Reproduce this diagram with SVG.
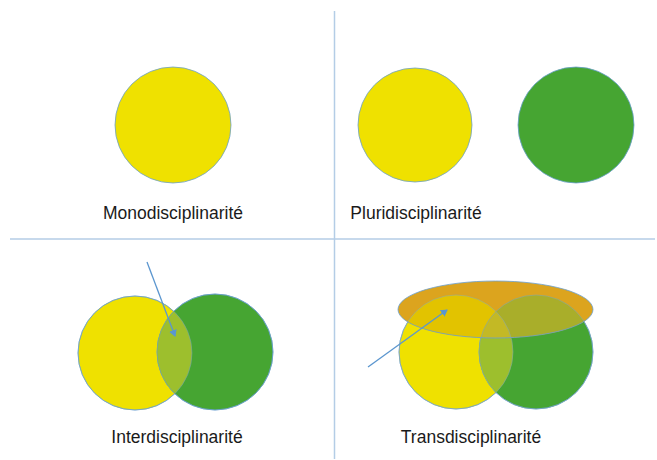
<svg xmlns="http://www.w3.org/2000/svg" width="657" height="460" viewBox="0 0 657 460">
<style>
.lbl{font-family:"Liberation Sans",Arial,sans-serif;font-size:17.5px;fill:#1a1a1a;text-anchor:middle}
.y{fill:#EFE100;stroke:#6A9FD0;stroke-width:0.8}
.g{fill:#46A532;stroke:#6A9FD0;stroke-width:0.8}
.div{stroke:#B4CDE6;stroke-width:1.5}
.arr{stroke:#5B96CF;stroke-width:1.3;fill:none;marker-end:url(#ah)}
</style>
<defs>
<marker id="ah" markerWidth="8" markerHeight="8" refX="6" refY="4" orient="auto" markerUnits="userSpaceOnUse">
<path d="M0,0 L7,4 L0,8 Z" fill="#5B96CF"/>
</marker>
<clipPath id="cY1"><circle cx="135" cy="353" r="57"/></clipPath>
<clipPath id="cY2"><circle cx="456" cy="352" r="57"/></clipPath>
<clipPath id="cE"><ellipse cx="495.5" cy="309.5" rx="97.5" ry="28.5"/></clipPath>
</defs>
<g id="dividers">
<line class="div" x1="334.5" y1="11" x2="334.5" y2="459"/>
<line class="div" x1="10" y1="239" x2="655" y2="239"/>
</g>
<g id="mono">
<circle class="y" cx="173" cy="125" r="58"/>
<text class="lbl" x="173" y="219">Monodisciplinarité</text>
</g>
<g id="pluri">
<circle class="y" cx="415" cy="125" r="57"/>
<circle class="g" cx="576" cy="125" r="58"/>
<text class="lbl" x="416" y="219">Pluridisciplinarité</text>
</g>
<g id="inter">
<circle class="y" cx="135" cy="353" r="57"/>
<circle class="g" cx="215" cy="352" r="58"/>
<circle cx="215" cy="352" r="58" fill="#9DBF2D" clip-path="url(#cY1)"/>
<circle cx="135" cy="353" r="57" fill="none" stroke="#6A9FD0" stroke-width="0.8" stroke-opacity="0.6"/>
<circle cx="215" cy="352" r="58" fill="none" stroke="#6A9FD0" stroke-width="0.8" stroke-opacity="0.6"/>
<text class="lbl" x="177" y="443">Interdisciplinarité</text>
</g>
<g id="trans">
<circle class="y" cx="456" cy="352" r="57"/>
<circle class="g" cx="536" cy="352" r="57"/>
<circle cx="536" cy="352" r="57" fill="#9DBF2D" clip-path="url(#cY2)"/>
<ellipse cx="495.5" cy="309.5" rx="97.5" ry="28.5" fill="#DCA41E"/>
<g clip-path="url(#cE)">
<circle cx="456" cy="352" r="57" fill="#E2C300"/>
<circle cx="536" cy="352" r="57" fill="#A9AE2A"/>
<g clip-path="url(#cY2)"><circle cx="536" cy="352" r="57" fill="#C3B925"/></g>
</g>
<circle cx="456" cy="352" r="57" fill="none" stroke="#7FA6C8" stroke-width="0.8" stroke-opacity="0.6"/>
<circle cx="536" cy="352" r="57" fill="none" stroke="#7FA6C8" stroke-width="0.8" stroke-opacity="0.6"/>
<ellipse cx="495.5" cy="309.5" rx="97.5" ry="28.5" fill="none" stroke="#6A9FD0" stroke-width="0.8"/>
<text class="lbl" x="471" y="443">Transdisciplinarité</text>
</g>
<g id="connectors">
<line class="arr" x1="147" y1="262" x2="175" y2="336"/>
<line class="arr" x1="368" y1="367" x2="447" y2="310"/>
</g>
</svg>
